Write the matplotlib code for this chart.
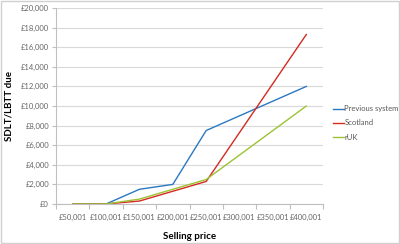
import matplotlib
matplotlib.use("Agg")
import matplotlib.pyplot as plt
from matplotlib.ticker import FuncFormatter, FixedLocator

plt.rcParams['font.family'] = ['Lato', 'DejaVu Sans']

# Data: tax due at each selling price
prices = ["£50,001", "£100,001", "£150,001", "£200,001",
          "£250,001", "£300,001", "£350,001", "£400,001"]
previous_system = [0, 0, 1500, 2000, 7500, 9000, 10500, 12000]
scotland = [0, 0, 300, 1300, 2300, 7300, 12300, 17300]
ruk = [0, 0, 500, 1500, 2500, 5000, 7500, 10000]

fig = plt.figure(figsize=(4.0, 2.44), dpi=100)
ax = fig.add_axes([0.14, 0.164, 0.6675, 0.803])

x = list(range(len(prices)))
ax.plot(x, previous_system, color="#2b78c2", lw=1.0, label="Previous system")
ax.plot(x, scotland, color="#d42a22", lw=1.0, label="Scotland")
ax.plot(x, ruk, color="#9cc332", lw=1.0, label="rUK")

ax.set_xlim(-0.5, len(prices) - 0.5)
ax.set_ylim(0, 20000)
ax.set_yticks(range(0, 20001, 2000))
ax.yaxis.set_major_formatter(FuncFormatter(lambda v, p: "£{:,.0f}".format(v)))
ax.set_xticks(x)
ax.set_xticklabels(prices)
ax.xaxis.set_minor_locator(FixedLocator([i - 0.5 for i in range(len(prices) + 1)]))

ax.grid(axis="y", color="#d9d9d9", lw=0.8)
ax.set_axisbelow(True)
for s in ["top", "right"]:
    ax.spines[s].set_visible(False)
for s in ["left", "bottom"]:
    ax.spines[s].set_color("#bfbfbf")
    ax.spines[s].set_linewidth(0.8)

ax.tick_params(axis="x", which="major", length=0, pad=7, labelsize=5.5, labelcolor="#666666")
ax.tick_params(axis="x", which="minor", length=3.5, color="#bfbfbf", width=0.8)
ax.tick_params(axis="y", length=3, color="#bfbfbf", width=0.8, pad=2,
               labelsize=5.5, labelcolor="#666666")

ax.set_xlabel("Selling price", fontsize=7, fontweight="bold", labelpad=8)
ax.set_ylabel("SDLT/LBTT due", fontsize=7, fontweight="bold", labelpad=5)

leg = fig.legend(loc="upper left", bbox_to_anchor=(0.815, 0.597), frameon=False,
                 fontsize=5.5, handlelength=1.4, handletextpad=0.1, labelspacing=0.95)
for t in leg.get_texts():
    t.set_color("#595959")

fig.patches.append(plt.Rectangle((0.002, 0.003), 0.995, 0.994, transform=fig.transFigure,
                                 fill=False, edgecolor="#d0d0d0", lw=1.0))

fig.savefig("out.png", dpi=100)
